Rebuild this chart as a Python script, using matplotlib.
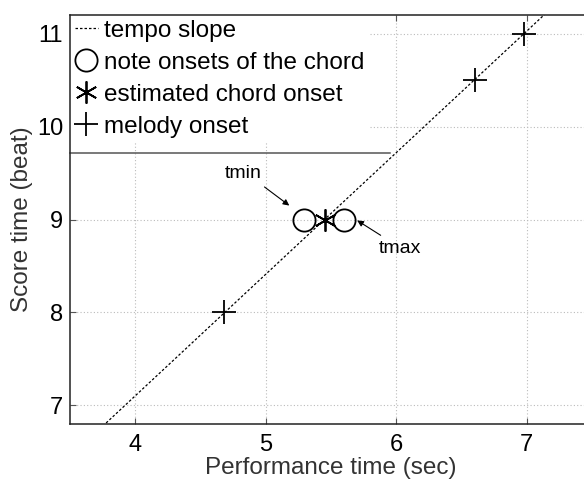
import matplotlib
matplotlib.use("Agg")
import matplotlib.pyplot as plt

plt.rcParams['font.family'] = ['Liberation Sans', 'DejaVu Sans']

# values
tempo_x = [3.6, 7.2]
tempo_y = [6.58, 11.29]
chord_x = [5.29, 5.60]
chord_y = [9, 9]
est_x = [5.45]
est_y = [9]
melody_x = [4.68, 6.60, 6.98]
melody_y = [8, 10.5, 11]

xticks = [4, 5, 6, 7]
yticks = [7, 8, 9, 10, 11]

fig = plt.figure(figsize=(5.84, 4.8), dpi=100)
ax = fig.add_axes([0.1199, 0.1167, 0.894, 0.852])

ax.plot(tempo_x, tempo_y, color='black', linestyle=(0, (2, 1.6)), linewidth=0.9,
        label='tempo slope')
ax.plot(chord_x, chord_y, linestyle='none', marker='o', markersize=16,
        markerfacecolor='none', markeredgecolor='black', markeredgewidth=1.3,
        label='note onsets of the chord')
ax.plot(est_x, est_y, linestyle='none', marker=(6, 2, 0), markersize=16,
        color='black', markeredgewidth=1.3, label='estimated chord onset')
ax.plot(melody_x, melody_y, linestyle='none', marker='+', markersize=17,
        color='black', markeredgewidth=1.3, label='melody onset')

# annotation labels and arrows
ax.text(4.83, 9.5, 'tmin', fontsize=14, ha='center', va='center')
ax.annotate('', xy=(5.18, 9.15), xytext=(4.99, 9.35),
            arrowprops=dict(arrowstyle='-|>', color='black', lw=0.8,
                            mutation_scale=9, shrinkA=0, shrinkB=0))
ax.text(6.03, 8.69, 'tmax', fontsize=14, ha='center', va='center')
ax.annotate('', xy=(5.70, 8.99), xytext=(5.88, 8.83),
            arrowprops=dict(arrowstyle='-|>', color='black', lw=0.8,
                            mutation_scale=9, shrinkA=0, shrinkB=0))

ax.set_xlim(3.5, 7.5)
ax.set_ylim(6.8, 11.2)
ax.set_xticks(xticks)
ax.set_yticks(yticks)
ax.tick_params(direction='in', length=4, labelsize=17, top=True, right=True,
               color='#555555')
ax.tick_params(axis='x', pad=7)
ax.tick_params(axis='y', pad=5)
ax.grid(True, linestyle=(0, (1, 2)), color='#bbbbbb', linewidth=0.8)
for s in ax.spines.values():
    s.set_linewidth(1.1)
    s.set_color('#222222')
    s.set_zorder(8)

ax.set_xlabel('Performance time (sec)', fontsize=17.5, color='#333333', labelpad=1)
ax.set_ylabel('Score time (beat)', fontsize=17.5, color='#333333', labelpad=3)

leg = ax.legend(loc='upper left', bbox_to_anchor=(0, 1), borderaxespad=0,
                fontsize=17.5, handlelength=0.95, handletextpad=0.25,
                labelspacing=0.41, borderpad=0.2, fancybox=False,
                framealpha=1, facecolor='white', edgecolor='white')
leg.get_frame().set_linewidth(0)
ax.plot([0, 0.613], [0.663, 0.663], transform=ax.transAxes, color='#555555',
        linewidth=1.1, zorder=6, clip_on=False)

fig.savefig('out.png', dpi=100)
